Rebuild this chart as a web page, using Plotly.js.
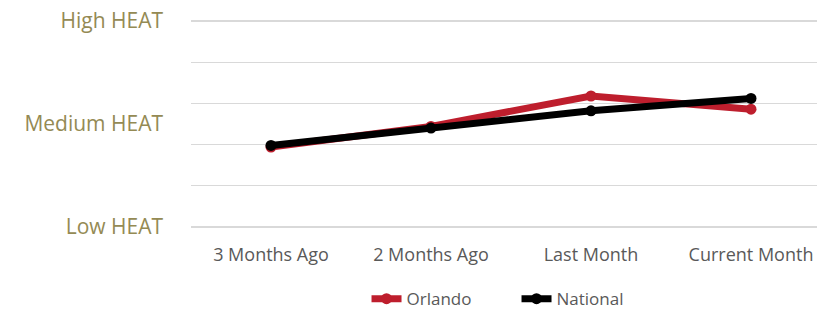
<!DOCTYPE html>
<html>
<head>
<meta charset="utf-8">
<script src="https://cdn.plot.ly/plotly-3.0.1.min.js"></script>
<style>html,body{margin:0;padding:0;overflow:hidden;background:#fff;}</style>
</head>
<body>
<div id="chart" style="width:817px;height:311px;"></div>
<script>
var categories = ["3 Months Ago", "2 Months Ago", "Last Month", "Current Month"];
var orlando = [1.94, 2.44, 3.18, 2.86];
var national = [1.98, 2.40, 2.82, 3.12];
var gridVals = [0, 1, 2, 3, 4, 5];
var yTickVals = [0, 2.5, 5];
var yTickText = ["Low HEAT", "Medium HEAT", "High HEAT"];

var traces = [
  {x: categories, y: orlando, yaxis: "y2", type: "scatter", mode: "none", showlegend: false, hoverinfo: "skip"},
  {x: categories, y: orlando, name: "Orlando", type: "scatter", mode: "lines+markers",
   line: {color: "#BE1E2D", width: 7}, marker: {color: "#BE1E2D", size: 11}},
  {x: categories, y: national, name: "National", type: "scatter", mode: "lines+markers",
   line: {color: "#000000", width: 7}, marker: {color: "#000000", size: 11}}
];

var layout = {
  width: 817, height: 311,
  margin: {l: 191, r: 0, t: 18.6, b: 81.6, autoexpand: false},
  paper_bgcolor: "#ffffff", plot_bgcolor: "#ffffff",
  showlegend: true,
  legend: {orientation: "h", xref: "paper", x: 0.52, xanchor: "center",
           yref: "container", y: 0.038, yanchor: "middle", entrywidth: 105,
           font: {family: "Open Sans", size: 17, color: "#595959"}, itemwidth: 30, tracegroupgap: 0},
  xaxis: {type: "category", range: [-0.5, 3.4125], showgrid: false, zeroline: false, showline: false,
          ticks: "", ticklabelstandoff: 13, automargin: false,
          tickfont: {family: "Open Sans", size: 18, color: "#595959"}},
  yaxis: {range: [-0.05, 5.05], tickmode: "array", tickvals: gridVals, showticklabels: false,
          showgrid: true, gridcolor: "#D9D9D9", gridwidth: 1.3, zeroline: false, showline: false,
          ticks: "", automargin: false},
  yaxis2: {overlaying: "y", side: "left", range: [-0.05, 5.05], tickmode: "array", tickvals: yTickVals, ticktext: yTickText,
           showgrid: false, zeroline: false, showline: false, ticks: "", ticklabelstandoff: 27, automargin: false,
           tickfont: {family: "Open Sans", size: 21, color: "#948A54"}},
  font: {family: "Open Sans"}
};

Plotly.newPlot("chart", traces, layout, {displayModeBar: false, staticPlot: true});
</script>
</body>
</html>
